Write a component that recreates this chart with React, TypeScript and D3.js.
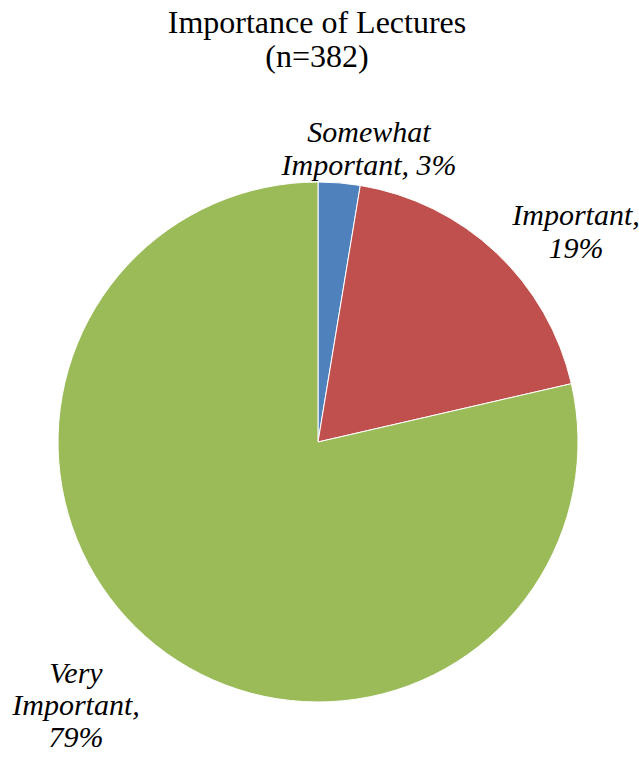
import * as d3 from "d3";

const categories = ["Somewhat Important", "Important", "Very Important"];
const shares = [2.6, 18.8, 78.6];
const percentLabels = ["3%", "19%", "79%"];
const colors = ["#4F81BD", "#C0504D", "#9BBB59"];

// label lines and where each label block sits (center x, first baseline y, line gap)
const labelLines = [
  ["Somewhat", "Important, 3%"],
  ["Important,", "19%"],
  ["Very", "Important,", "79%"],
];
const labelSpots: Array<[number, number, number]> = [
  [369, 142, 33],
  [576, 225, 33],
  [76, 683, 32],
];

const serif = { fontFamily: "Liberation Serif, Times New Roman, serif" };

export default function App() {
  const width = 639;
  const height = 757;
  const cx = 318;
  const cy = 442;
  const radius = 260;

  const pie = d3
    .pie<number>()
    .sort(null)
    .value((d) => d);
  const arcs = pie(shares);
  const arc = d3.arc<d3.PieArcDatum<number>>().innerRadius(0).outerRadius(radius);

  return (
    <svg
      width={width}
      height={height}
      style={{ position: "absolute", left: 0, top: 0, background: "#fff" }}
    >
      <text x={317} y={33} textAnchor="middle" fontSize={32} fill="#000" style={serif}>
        Importance of Lectures
      </text>
      <text x={317} y={67} textAnchor="middle" fontSize={32} fill="#000" style={serif}>
        (n=382)
      </text>
      <g transform={`translate(${cx},${cy})`}>
        {arcs.map((a, i) => (
          <path
            key={categories[i]}
            d={arc(a) ?? ""}
            fill={colors[i]}
            stroke="#fff"
            strokeWidth={1}
          />
        ))}
      </g>
      {labelLines.map((lines, i) => (
        <text
          key={categories[i] + percentLabels[i]}
          x={labelSpots[i][0]}
          y={labelSpots[i][1]}
          textAnchor="middle"
          fontSize={30}
          fontStyle="italic"
          fill="#000"
          style={serif}
        >
          {lines.map((ln, j) => (
            <tspan key={j} x={labelSpots[i][0]} dy={j === 0 ? 0 : labelSpots[i][2]}>
              {ln}
            </tspan>
          ))}
        </text>
      ))}
    </svg>
  );
}
